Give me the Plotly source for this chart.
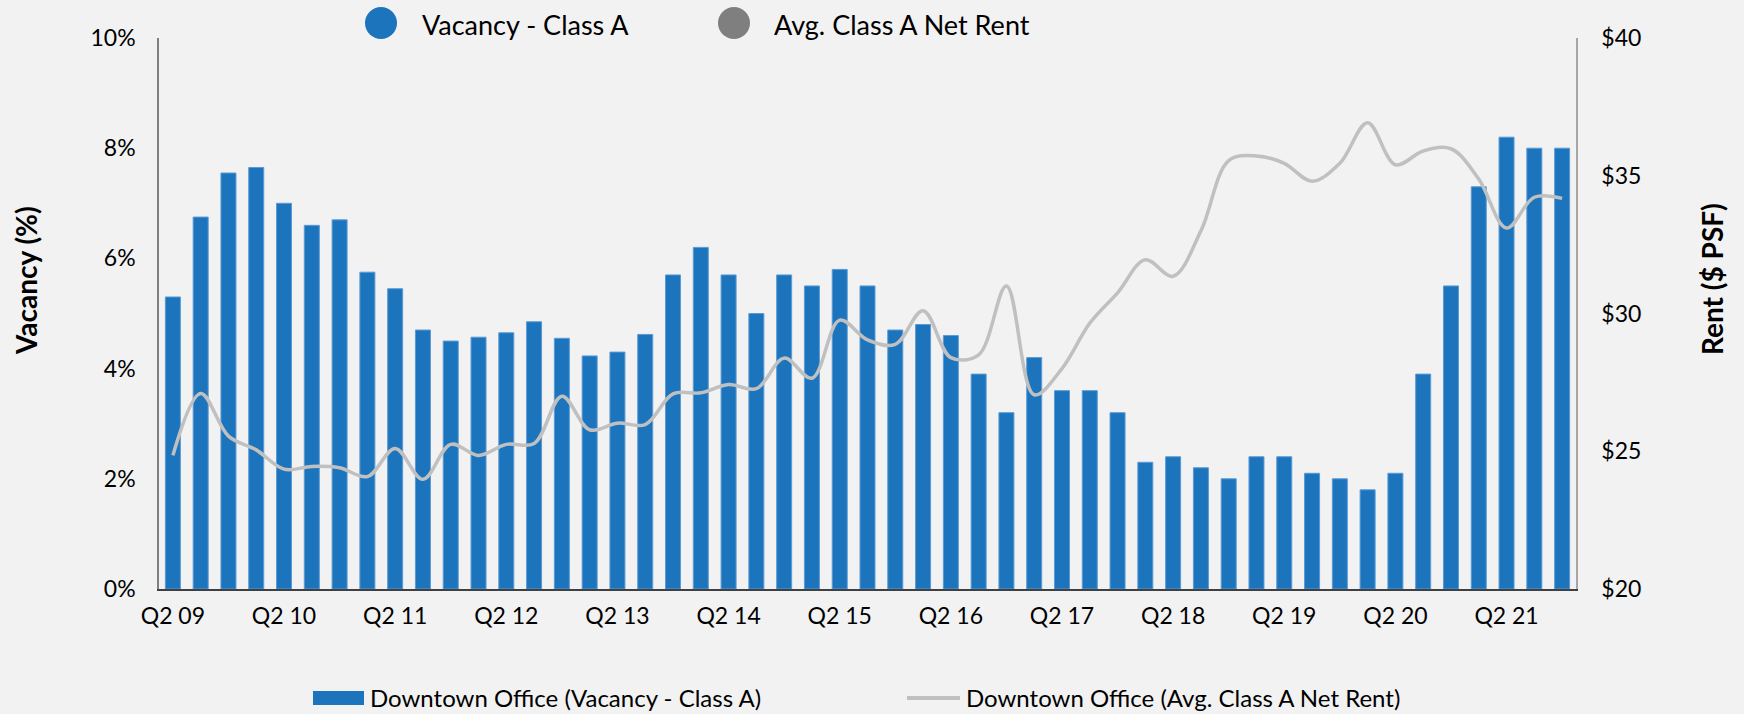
import plotly.graph_objects as go

# ---------------- data ----------------
quarters = [
    "Q2 09", "Q3 09", "Q4 09",
    "Q1 10", "Q2 10", "Q3 10", "Q4 10",
    "Q1 11", "Q2 11", "Q3 11", "Q4 11",
    "Q1 12", "Q2 12", "Q3 12", "Q4 12",
    "Q1 13", "Q2 13", "Q3 13", "Q4 13",
    "Q1 14", "Q2 14", "Q3 14", "Q4 14",
    "Q1 15", "Q2 15", "Q3 15", "Q4 15",
    "Q1 16", "Q2 16", "Q3 16", "Q4 16",
    "Q1 17", "Q2 17", "Q3 17", "Q4 17",
    "Q1 18", "Q2 18", "Q3 18", "Q4 18",
    "Q1 19", "Q2 19", "Q3 19", "Q4 19",
    "Q1 20", "Q2 20", "Q3 20", "Q4 20",
    "Q1 21", "Q2 21", "Q3 21", "Q4 21",
]

vacancy_class_a = [
    5.3, 6.75, 7.55,
    7.65, 7.0, 6.6, 6.7,
    5.75, 5.45, 4.7, 4.5,
    4.57, 4.65, 4.85, 4.55,
    4.23, 4.3, 4.62, 5.7,
    6.2, 5.7, 5.0, 5.7,
    5.5, 5.8, 5.5, 4.7,
    4.8, 4.6, 3.9, 3.2,
    4.2, 3.6, 3.6, 3.2,
    2.3, 2.4, 2.2, 2.0,
    2.4, 2.4, 2.1, 2.0,
    1.8, 2.1, 3.9, 5.5,
    7.3, 8.2, 8.0, 8.0,
]

avg_class_a_rent = [
    24.85, 27.1, 25.55,
    25.05, 24.35, 24.45, 24.4,
    24.08, 25.1, 23.98, 25.25,
    24.85, 25.25, 25.28, 27.0,
    25.78, 26.02, 25.97, 27.08,
    27.12, 27.42, 27.27, 28.38,
    27.65, 29.76, 29.04, 28.88,
    30.1, 28.4, 28.5, 31.0,
    27.05, 28.0, 29.65, 30.75,
    31.95, 31.35, 33.0, 35.55,
    35.72, 35.45, 34.8, 35.45,
    36.92, 35.4, 35.9, 35.98,
    34.88, 33.1, 34.22, 34.18,
]

x_tick_labels = ["Q2 09", "Q2 10", "Q2 11", "Q2 12", "Q2 13", "Q2 14",
                 "Q2 15", "Q2 16", "Q2 17", "Q2 18", "Q2 19", "Q2 20", "Q2 21"]
vacancy_ticks = [0, 2, 4, 6, 8, 10]
rent_ticks = [20, 25, 30, 35, 40]

bar_name = "Downtown Office (Vacancy - Class A)"
line_name = "Downtown Office (Avg. Class A Net Rent)"

# ---------------- style ----------------
W, H = 1744, 714
L, R, T, B = 159, 1576, 38, 589
BG = "#f2f2f2"
BLUE = "#1c75bc"
LINE_GREY = "#c0c0c0"
DOT_GREY = "#7f7f7f"
FONT = "Lato"


def pxx(x):
    return (x - L) / (R - L)


def pxy(y):
    return (B - y) / (B - T)


fig = go.Figure()
fig.add_trace(go.Bar(
    x=quarters, y=vacancy_class_a, name=bar_name,
    marker=dict(color=BLUE, line=dict(color="#5b9ad6", width=1)),
    yaxis="y", showlegend=False,
))
fig.add_trace(go.Scatter(
    x=quarters, y=avg_class_a_rent, name=line_name, mode="lines",
    line=dict(color=LINE_GREY, width=3.5, shape="spline", smoothing=1.0),
    yaxis="y2", showlegend=False,
))

shapes = []
annotations = []

# top legend (circles + labels)
for cx, col, txt, tx in [(381, BLUE, "Vacancy - Class A", 420),
                         (734, DOT_GREY, "Avg. Class A Net Rent", 772)]:
    shapes.append(dict(type="circle", xref="paper", yref="paper",
                       xsizemode="pixel", ysizemode="pixel",
                       xanchor=pxx(cx), yanchor=pxy(23),
                       x0=-16, x1=16, y0=-16, y1=16,
                       fillcolor=col, line=dict(width=0)))
    annotations.append(dict(text=txt, xref="paper", yref="paper",
                            x=pxx(tx), y=pxy(24), xanchor="left", yanchor="middle",
                            showarrow=False, font=dict(family=FONT, size=27, color="#000")))

# bottom legend
shapes.append(dict(type="rect", xref="paper", yref="paper",
                   x0=pxx(313), x1=pxx(364), y0=pxy(705), y1=pxy(691),
                   fillcolor=BLUE, line=dict(width=0)))
annotations.append(dict(text=bar_name, xref="paper", yref="paper",
                        x=pxx(368), y=pxy(697), xanchor="left", yanchor="middle",
                        showarrow=False, font=dict(family=FONT, size=24, color="#000")))
shapes.append(dict(type="line", xref="paper", yref="paper",
                   x0=pxx(907), x1=pxx(960), y0=pxy(698), y1=pxy(698),
                   line=dict(color=LINE_GREY, width=4)))
annotations.append(dict(text=line_name, xref="paper", yref="paper",
                        x=pxx(964), y=pxy(697), xanchor="left", yanchor="middle",
                        showarrow=False, font=dict(family=FONT, size=24, color="#000")))

# axis titles
annotations.append(dict(text="<b>Vacancy (%)</b>", xref="paper", yref="paper",
                        x=pxx(26), y=pxy(281), textangle=-90,
                        xanchor="center", yanchor="middle", showarrow=False,
                        font=dict(family=FONT, size=28, color="#000")))
annotations.append(dict(text="<b>Rent ($ PSF)</b>", xref="paper", yref="paper",
                        x=pxx(1712), y=pxy(279), textangle=-90,
                        xanchor="center", yanchor="middle", showarrow=False,
                        font=dict(family=FONT, size=28, color="#000")))

fig.update_layout(
    width=W, height=H, autosize=False,
    paper_bgcolor=BG, plot_bgcolor=BG,
    margin=dict(l=L, r=W - R, t=T, b=H - B, pad=0),
    bargap=0.46,
    showlegend=False,
    font=dict(family=FONT, size=23, color="#000"),
    xaxis=dict(type="category", range=[-0.5, len(quarters) - 0.5],
               tickmode="array", tickvals=x_tick_labels, ticktext=x_tick_labels,
               showgrid=False, zeroline=False,
               showline=True, linecolor="#404040", linewidth=1.5,
               ticks="", ticklabelstandoff=6,
               tickfont=dict(family=FONT, size=23, color="#000")),
    yaxis=dict(range=[0, 10], tickmode="array", tickvals=vacancy_ticks,
               ticktext=[f"{v}%" for v in vacancy_ticks],
               showgrid=False, zeroline=False,
               showline=True, linecolor="#7f7f7f", linewidth=1.5,
               ticks="", ticklabelstandoff=17,
               tickfont=dict(family=FONT, size=23, color="#000")),
    yaxis2=dict(range=[20, 40], overlaying="y", side="right",
                tickmode="array", tickvals=rent_ticks,
                ticktext=[f"${v}" for v in rent_ticks],
                showgrid=False, zeroline=False,
                showline=True, linecolor="#a6a6a6", linewidth=1.5,
                ticks="", ticklabelstandoff=19,
                tickfont=dict(family=FONT, size=23, color="#000")),
    shapes=shapes,
    annotations=annotations,
)

fig.write_html(
    "out.html",
    config={"displayModeBar": False},
    post_script="document.body.style.margin='0';document.body.style.padding='0';"
                "document.body.style.overflow='hidden';document.body.style.background='" + BG + "';",
)
